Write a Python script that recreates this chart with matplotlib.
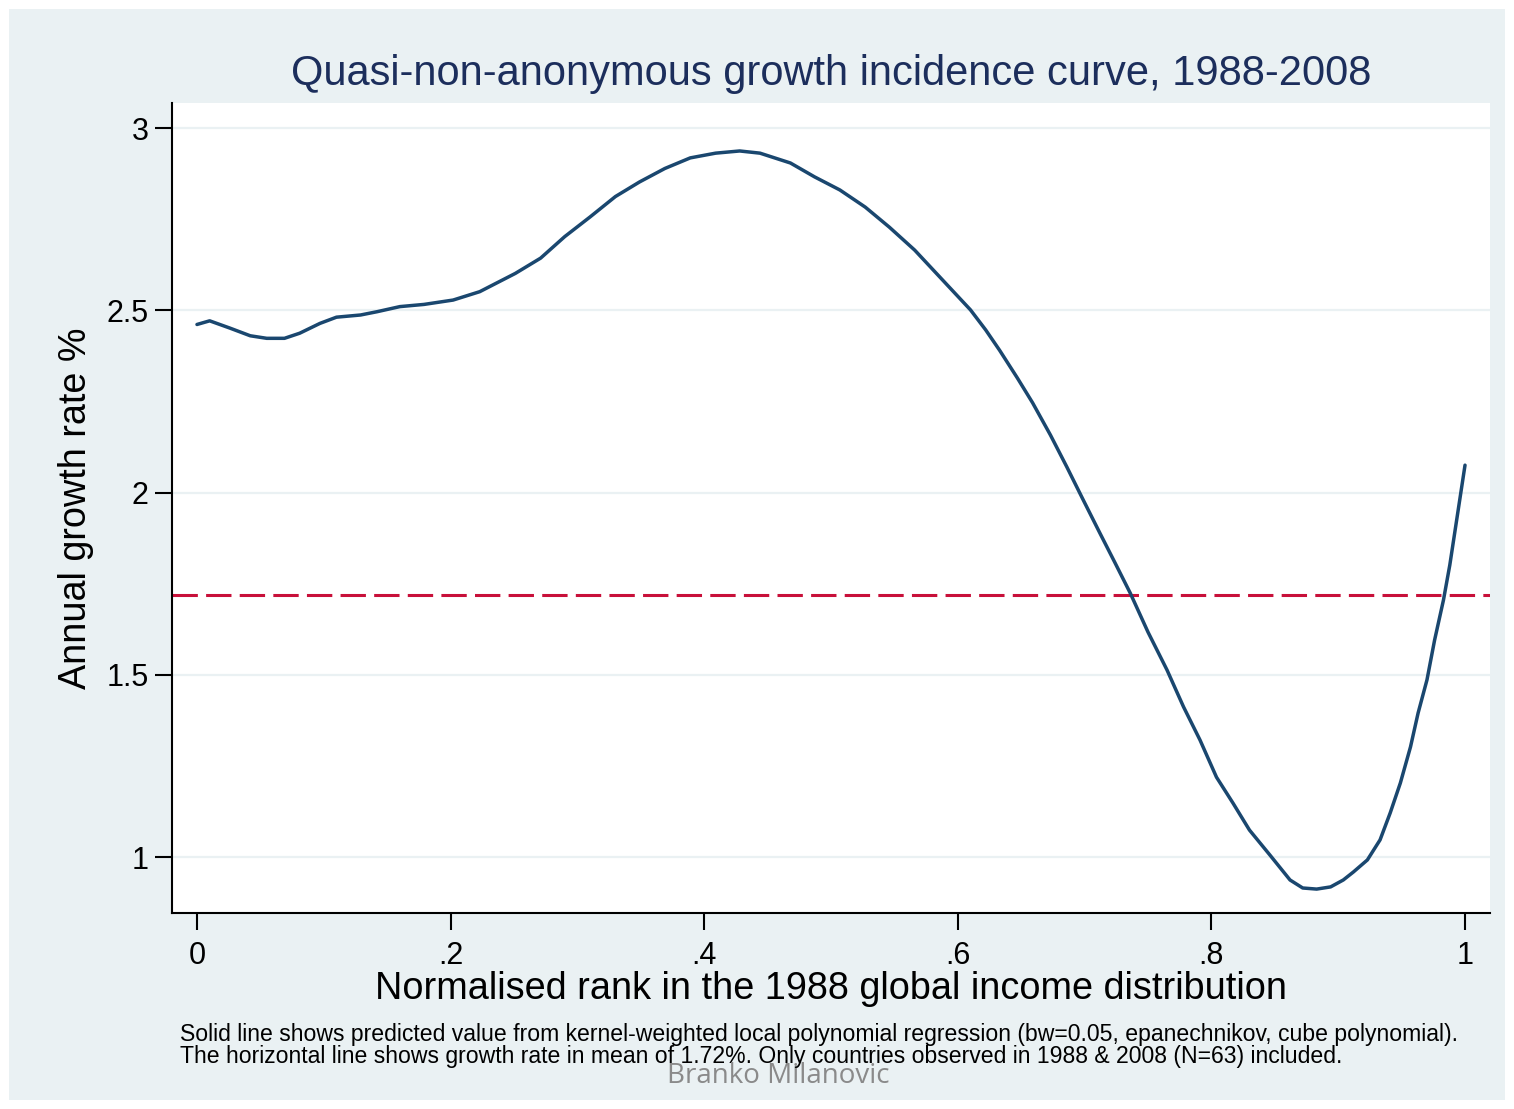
import matplotlib.pyplot as plt
from matplotlib.patches import Rectangle

# data
rank = [0.000, 0.010, 0.026, 0.042, 0.055, 0.069, 0.081, 0.097, 0.110, 0.129,
        0.142, 0.160, 0.179, 0.202, 0.223, 0.251, 0.271, 0.290, 0.310, 0.330,
        0.349, 0.369, 0.389, 0.409, 0.428, 0.444, 0.468, 0.487, 0.507, 0.527,
        0.546, 0.566, 0.588, 0.599, 0.610, 0.622, 0.633, 0.647, 0.659, 0.673,
        0.686, 0.699, 0.712, 0.724, 0.736, 0.750, 0.765, 0.778, 0.791, 0.804,
        0.817, 0.830, 0.846, 0.862, 0.872, 0.883, 0.894, 0.904, 0.912, 0.923,
        0.933, 0.941, 0.949, 0.957, 0.963, 0.970, 0.976, 0.983, 0.988, 1.000]
growth = [2.461, 2.471, 2.451, 2.430, 2.423, 2.423, 2.437, 2.464, 2.481, 2.487,
          2.496, 2.510, 2.516, 2.528, 2.551, 2.601, 2.643, 2.702, 2.756, 2.812,
          2.852, 2.889, 2.918, 2.931, 2.937, 2.931, 2.904, 2.866, 2.830, 2.783,
          2.728, 2.665, 2.583, 2.542, 2.501, 2.446, 2.390, 2.314, 2.246, 2.158,
          2.070, 1.979, 1.889, 1.807, 1.724, 1.617, 1.513, 1.412, 1.321, 1.219,
          1.148, 1.074, 1.006, 0.937, 0.915, 0.912, 0.918, 0.937, 0.959, 0.992,
          1.047, 1.121, 1.203, 1.302, 1.395, 1.486, 1.595, 1.705, 1.801, 2.075]
mean_growth = 1.72
xticks = [0, 0.2, 0.4, 0.6, 0.8, 1.0]
xtick_labels = ['0', '.2', '.4', '.6', '.8', '1']
yticks = [1, 1.5, 2, 2.5, 3]
ytick_labels = ['1', '1.5', '2', '2.5', '3']

plt.rcParams['font.family'] = ['Liberation Sans', 'DejaVu Sans']

W, H = 1514, 1109
fig = plt.figure(figsize=(W / 100, H / 100), dpi=100, facecolor='white')
# stata style background panel with thin light border
fig.patches.append(Rectangle((9 / W, 9 / H), (W - 18) / W, (H - 18) / H,
                             transform=fig.transFigure, facecolor='#EAF1F3',
                             edgecolor='none', zorder=-5))

ax = fig.add_axes([172 / W, 1 - 913 / H, (1490 - 172) / W, (913 - 103) / H])
ax.set_zorder(1)
ax.set_facecolor('white')

for y in yticks:
    ax.axhline(y, color='#EAF1F3', lw=1.6, zorder=1)

ax.plot(rank, growth, color='#1A476F', lw=2.5, zorder=3,
        solid_capstyle='round', solid_joinstyle='round')
ax.axhline(mean_growth, color='#C8103A', lw=2.2, dashes=(8.3, 2.7), zorder=2)

ax.set_xlim(-0.0197, 1.0197)
ax.set_ylim(0.8464, 3.0686)

ax.set_xticks(xticks)
ax.set_xticklabels(xtick_labels)
ax.set_yticks(yticks)
ax.set_yticklabels(ytick_labels)
ax.tick_params(axis='both', direction='out', length=12, width=1.5,
               labelsize=22, colors='black')
ax.tick_params(axis='x', pad=8)
ax.tick_params(axis='y', pad=5)

for s in ['top', 'right']:
    ax.spines[s].set_visible(False)
for s in ['left', 'bottom']:
    ax.spines[s].set_linewidth(1.5)

ax.set_xlabel('Normalised rank in the 1988 global income distribution',
              fontsize=27.3, labelpad=0)
ax.set_ylabel('Annual growth rate %', fontsize=27.2, labelpad=9)

fig.text(831 / W, 1 - 74 / H, 'Quasi-non-anonymous growth incidence curve, 1988-2008',
         ha='center', va='center', fontsize=30, color='#1C2E5C')

fig.text(180 / W, 1 - 1035 / H,
         'Solid line shows predicted value from kernel-weighted local polynomial '
         'regression (bw=0.05, epanechnikov, cube polynomial).',
         ha='left', va='center', fontsize=16.6)
fig.text(180 / W, 1 - 1057 / H,
         'The horizontal line shows growth rate in mean of 1.72%. Only countries '
         'observed in 1988 & 2008 (N=63) included.',
         ha='left', va='center', fontsize=16.6)
fig.text(778 / W, 1 - 1076 / H, 'Branko Milanovic', ha='center', va='center',
         fontsize=20, color='#8A8A8A', family=['Open Sans', 'DejaVu Sans'])

fig.savefig('out.png', dpi=100, facecolor=fig.get_facecolor())
